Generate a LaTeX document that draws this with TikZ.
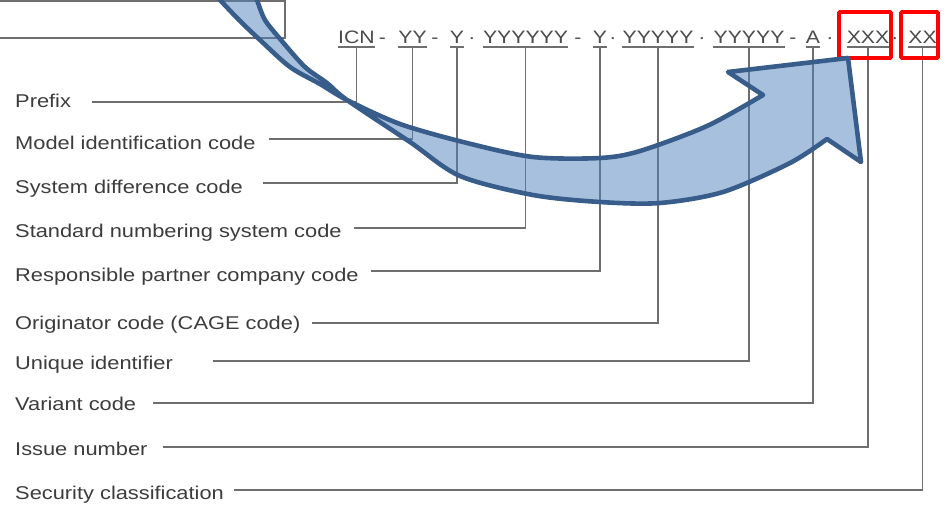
\documentclass[tikz,border=0pt]{standalone}
\usepackage{fontspec}
\setmainfont{Liberation Sans}[FakeStretch=1.18]
\definecolor{leadgray}{RGB}{110,110,110}
\definecolor{labelgray}{RGB}{60,60,60}
\definecolor{codegray}{RGB}{75,75,75}
\definecolor{arrowfill}{RGB}{79,129,189}
\definecolor{arrowline}{RGB}{56,93,138}

\begin{document}
\begin{tikzpicture}[x=1pt, y=-1pt]
        \tikzstyle{every node}+=[inner sep=0pt]
        \tikzstyle{desc}=[anchor=west, text=labelgray, font=\fontsize{18.5}{22}\selectfont, text height=13.2pt, text depth=0pt]
        \tikzstyle{seg}=[text=codegray, font=\fontsize{18}{22}\selectfont, text height=12.9pt, text depth=0pt, inner ysep=3.4pt]
        \tikzstyle{leadline}=[draw=leadgray, line width=1.7pt]
        \tikzstyle{uline}=[draw=leadgray, line width=1.4pt]
        \tikzstyle{redbox}=[draw=red, line width=3.6pt, rounded corners=1pt]
        \tikzstyle{bigarrow}=[draw=arrowline, line width=4.6pt, fill=arrowfill, fill opacity=0.5, line join=round]
        \clip (0,0) rectangle (951,512);

        % box at the top left
        \draw [leadline] (-10,1) rectangle (285,38);

        % the code
        \node [seg] (icn) at (356.5,37) {ICN};
        \node [seg] (s1) at (382.5,37) {-};
        \node [seg] (yy) at (412.5,37) {YY};
        \node [seg] (s2) at (435,37) {-};
        \node [seg] (sdc) at (457,37) {Y};
        \node [seg] (s3) at (472,37) {·};
        \node [seg] (snsc) at (525.5,37) {YYYYYY};
        \node [seg] (s4) at (578,37) {-};
        \node [seg] (rpcc) at (600,37) {Y};
        \node [seg] (s5) at (613,37) {·};
        \node [seg] (cage) at (658,37) {YYYYY};
        \node [seg] (s6) at (702,37) {·};
        \node [seg] (uid) at (749,37) {YYYYY};
        \node [seg] (s7) at (793,37) {-};
        \node [seg] (var) at (813,37) {A};
        \node [seg] (s8) at (830,37) {·};
        \node [seg] (iss) at (868,37) {XXX};
        \node [seg] (s9) at (895,37) {·};
        \node [seg] (sec) at (922.5,37) {XX};

        \draw [uline] (icn.south west) -- (icn.south east);
        \draw [uline] (yy.south west) -- (yy.south east);
        \draw [uline] (sdc.south west) -- (sdc.south east);
        \draw [uline] (snsc.south west) -- (snsc.south east);
        \draw [uline] (rpcc.south west) -- (rpcc.south east);
        \draw [uline] (cage.south west) -- (cage.south east);
        \draw [uline] (uid.south west) -- (uid.south east);
        \draw [uline] (var.south west) -- (var.south east);
        \draw [uline] (iss.south west) -- (iss.south east);
        \draw [uline] (sec.south west) -- (sec.south east);

        % the descriptions
        \node [desc] (pfx) at (15,100.5) {Prefix};
        \node [desc] (mic) at (15,142.8) {Model identification code};
        \node [desc] (sysd) at (15,186.5) {System difference code};
        \node [desc] (stdn) at (15,230.5) {Standard numbering system code};
        \node [desc] (resp) at (15,274.5) {Responsible partner company code};
        \node [desc] (orig) at (15,322.5) {Originator code (CAGE code)};
        \node [desc] (uniq) at (15,362.5) {Unique identifier};
        \node [desc] (vari) at (15,404) {Variant code};
        \node [desc] (issn) at (15,449) {Issue number};
        \node [desc] (secc) at (15,492.5) {Security classification};

        \draw [leadline] ([shift={(21,1.2)}]pfx.east) -| (icn.south);
        \draw [leadline] ([shift={(13,-3.8)}]mic.east) -| (yy.south);
        \draw [leadline] ([shift={(20,-3.2)}]sysd.east) -| (sdc.south);
        \draw [leadline] ([shift={(12,-2.8)}]stdn.east) -| (snsc.south);
        \draw [leadline] ([shift={(12,-3.8)}]resp.east) -| (rpcc.south);
        \draw [leadline] ([shift={(11,0.8)}]orig.east) -| (cage.south);
        \draw [leadline] ([shift={(40,-1.5)}]uniq.east) -| (uid.south);
        \draw [leadline] ([shift={(17,-0.7)}]vari.east) -| (var.south);
        \draw [leadline] ([shift={(15,-2.3)}]issn.east) -| (iss.south);
        \draw [leadline] ([shift={(10,-2.5)}]secc.east) -| (sec.south);

        % the boxes round issue and security
        \draw [redbox] (839,12) rectangle (891,58);
        \draw [redbox] (901,12) rectangle (938,58);

        % the big curved arrow
        \filldraw [bigarrow] plot[smooth] coordinates {(214,-6) (220,0) (239,20) (260,40) (290,67) (320,84) (347,100) (400,124) (467,143) (533,157) (600,158) (640,151) (707,126) (763,95)}
          -- (728,72) -- (848,58) -- (861,162) -- (827,139)
          -- plot[smooth] coordinates {(827,139) (790,163) (723,192) (660,203) (600,202) (533,195) (460,176) (410,142) (347,100) (327,83) (305,67) (281,40) (265,20) (257,0) (255,-6)} -- cycle;
      \end{tikzpicture}
\end{document}
